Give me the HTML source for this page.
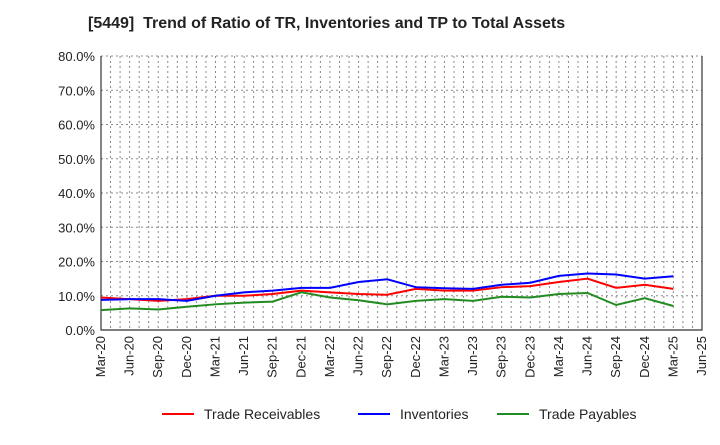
<!DOCTYPE html>
<html><head><meta charset="utf-8"><style>body{margin:0;background:#fff;font-family:"Liberation Sans",sans-serif}</style></head>
<body>
<svg id="c" width="720" height="440" xmlns="http://www.w3.org/2000/svg"></svg>
<script>
const categories=["Mar-20","Jun-20","Sep-20","Dec-20","Mar-21","Jun-21","Sep-21","Dec-21","Mar-22","Jun-22","Sep-22","Dec-22","Mar-23","Jun-23","Sep-23","Dec-23","Mar-24","Jun-24","Sep-24","Dec-24","Mar-25","Jun-25"];
const tradeReceivables=[9.5,9,8.5,9,10,10,10.5,11.5,11,10.5,10.3,12,11.5,11.5,12.5,12.8,14,15,12.3,13.2,12];
const inventories=[8.8,9,9,8.5,10,11,11.5,12.3,12.3,14,14.8,12.5,12.2,12,13.2,13.8,15.8,16.5,16.2,15,15.7];
const tradePayables=[5.8,6.3,6,6.8,7.5,8,8.3,11,9.5,8.7,7.5,8.5,9,8.5,9.7,9.5,10.5,10.8,7.3,9.3,7];
const yTicks=[0,10,20,30,40,50,60,70,80];
const yTickLabels=["0.0%","10.0%","20.0%","30.0%","40.0%","50.0%","60.0%","70.0%","80.0%"];
const L=101,R=702,T=56,B=330;
const svg=document.getElementById('c');const NS="http://www.w3.org/2000/svg";
const xs=i=>L+i*(R-L)/(categories.length-1);
const ys=v=>B-v/80*(B-T);
function mk(t,a,p){const e=document.createElementNS(NS,t);for(const k in a)e.setAttribute(k,a[k]);(p||svg).appendChild(e);return e;}
let t=mk('text',{x:88,y:28,'text-anchor':'start','font-size':16,'font-weight':'bold',fill:'#222',style:'white-space:pre'});t.textContent="[5449]  Trend of Ratio of TR, Inventories and TP to Total Assets";

for(let m=0;m<=63;m++){const x=L+m*(R-L)/63;const l=mk('line',{x1:x,x2:x,y1:T,y2:B,stroke:'#888','stroke-dasharray':'2,3','stroke-width':1});
}
yTicks.forEach((v,i)=>{const l=mk('line',{x1:L,x2:R,y1:ys(v),y2:ys(v),stroke:'#888','stroke-dasharray':'2,3'});

const tx=mk('text',{x:L-6,y:ys(v)+5,'text-anchor':'end','font-size':13,fill:'#222'});tx.textContent=yTickLabels[i];
});
const ax=mk('path',{d:`M${L},${T}V${B}H${R}V${T}`,fill:'none',stroke:'#333','stroke-width':1.2});

categories.forEach((c,i)=>{const tx=mk('text',{transform:`translate(${xs(i)+4},${B+6}) rotate(-90)`,'text-anchor':'end','font-size':13,fill:'#222'});tx.textContent=c;
});
const series=[[tradeReceivables,'#ff0000','trade-receivables-line'],[inventories,'#0000ff','inventories-line'],[tradePayables,'#228b22','trade-payables-line']];
series.forEach(s=>{const p=mk('polyline',{points:s[0].map((v,i)=>xs(i)+','+ys(v)).join(' '),fill:'none',stroke:s[1],'stroke-width':2});
});
const leg=[["Trade Receivables",'#ff0000',162],["Inventories",'#0000ff',358],["Trade Payables",'#228b22',497]];
leg.forEach(g=>{const gr=mk('g',{});
mk('line',{x1:g[2],x2:g[2]+32,y1:414,y2:414,stroke:g[1],'stroke-width':2},gr);
const tx=mk('text',{x:g[2]+42,y:419,'font-size':14,fill:'#222'},gr);tx.textContent=g[0];});
</script>
</body></html>
